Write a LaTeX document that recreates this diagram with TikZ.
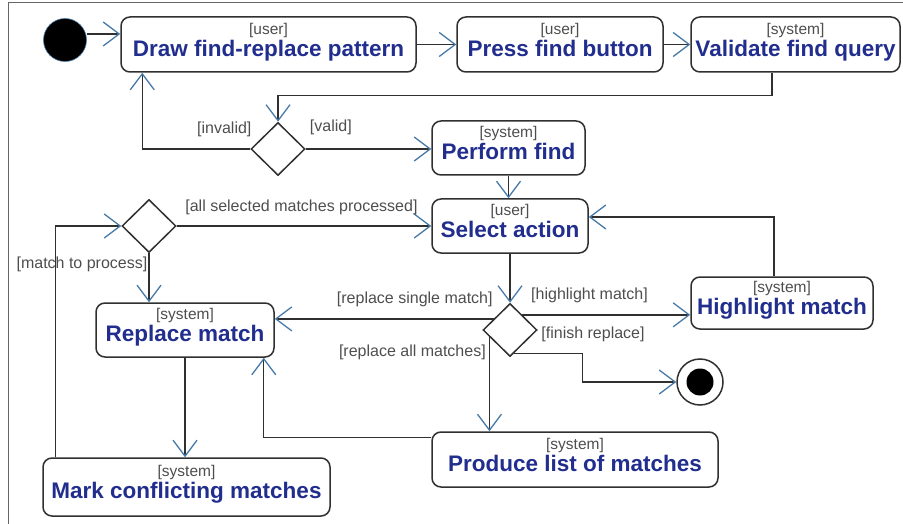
\documentclass[tikz,border=0pt]{standalone}
\definecolor{actblue}{RGB}{33,46,142}
\definecolor{taggray}{RGB}{78,78,78}
\definecolor{flowgray}{RGB}{48,48,48}
\definecolor{tipblue}{RGB}{72,122,168}
\usepackage{fontspec}
\setmainfont{Liberation Sans}
\usepackage{tikz}
\usetikzlibrary{arrows.meta,shapes.geometric}
\newcommand{\act}[2]{{\fontsize{15.5}{16}\selectfont\mdseries\color{taggray}[#1]}\\{\color{actblue}#2}}

\begin{document}
\begin{tikzpicture}[
    x=1pt,y=-1pt,
    act/.style={rectangle,draw=flowgray,line width=1.5pt,rounded corners=9pt,
                fill=white,align=center,inner xsep=2pt,inner ysep=0pt,text depth=10pt,
                minimum height=55pt,font=\fontsize{22.5}{22}\selectfont\bfseries},
    choice/.style={diamond,draw=flowgray,line width=1.5pt,fill=white,
                   inner sep=0pt,minimum width=54pt,minimum height=53pt},
    start/.style={circle,fill=black,draw=tipblue,line width=0.6pt,
                  minimum size=43pt,inner sep=0pt},
    stop/.style={circle,draw=flowgray,line width=1.5pt,fill=white,
                 minimum size=46pt,inner sep=0pt,
                 path picture={\fill[black] (path picture bounding box.center) circle (13.5pt);}},
    flow/.style={draw=flowgray,line width=1.4pt,
                 -{Straight Barb[length=16pt,width=24pt,color=tipblue,line width=1.3pt]}},
    guard/.style={font=\fontsize{16}{16}\selectfont,text=taggray,inner sep=1pt}
  ]
    \useasboundingbox (0,0) rectangle (903,524);
    \draw[gray!80!black,line width=1pt] (8,524) -- (8,3) -- (903,3);

    % Row 1: pattern and query
    \node[start] (init) at (65,40) {};
    \node[act,minimum width=295pt] (drawpat)  at (268.5,44.5) {\act{user}{Draw find-replace pattern}};
    \node[act,minimum width=206pt] (press)    at (560,44.5)   {\act{user}{Press find button}};
    \node[act,minimum width=209pt] (validate) at (795.5,44.5) {\act{system}{Validate find query}};
    % Row 2: validity check
    \node[choice] (d1) at (278,149) {};
    \node[act,minimum width=153pt,minimum height=54pt] (perform) at (508.5,148) {\act{system}{Perform find}};
    % Row 3: match loop and user choice
    \node[choice] (d2) at (149,226) {};
    \node[act,minimum width=156pt,minimum height=54pt] (select) at (510,226) {\act{user}{Select action}};
    % Row 4: actions on matches
    \node[act,minimum width=178pt,minimum height=54pt] (replace)   at (185,330) {\act{system}{Replace match}};
    \node[choice] (d3) at (510,330) {};
    \node[act,minimum width=182pt,minimum height=52pt] (highlight) at (782,303) {\act{system}{Highlight match}};
    \node[stop] (final) at (700,382) {};
    % Row 5
    \node[act,minimum width=287pt,minimum height=58pt] (mark)    at (186.5,487) {\act{system}{Mark conflicting matches}};
    \node[act,minimum width=286pt] (produce) at (575,459.5) {\act{system}{Produce list of matches}};

    % Arrows
    \draw[flow] ([yshift=6pt]init.east) -- ([yshift=6pt]init.east -| drawpat.west);
    \draw[flow] (drawpat) -- (press);
    \draw[flow] (press) -- (validate);
    \draw[flow] ([xshift=-23.5pt]validate.south) -- ++(0,23) -| (d1.north);
    \draw[flow] (d1.west) -| node[guard,pos=0.12,above=10pt]{[invalid]} ([xshift=22pt]drawpat.south west);
    \draw[flow] (d1.east) -- node[guard,pos=0.2,above=12pt]{[valid]} (perform.west |- d1.east);
    \draw[flow] (perform.south) -- (perform.south |- select.north);
    \draw[flow] (d2.east) -- node[guard,pos=0.49,above=9pt]{[all selected matches processed]} (select.west);
    \draw[flow] (d2.south) -- node[guard,pos=0.22,left=0pt]{[match to process]} (d2.south |- replace.north);
    \draw[flow] (select.south) -- (d3.north);
    \draw[flow] (d3.146) -- node[guard,pos=0.36,above=10pt]{[replace single match]} (d3.146 -| replace.east);
    \draw[flow] (d3.51) -- node[guard,pos=0.4,above=10pt]{[highlight match]} (d3.51 -| highlight.west);
    \draw[flow] (d3.199) -- node[guard,pos=0.16,left=2pt]{[replace all matches]} (d3.199 |- produce.north);
    \draw[flow] (d3.-81) node[guard,anchor=south west,xshift=26pt,yshift=10pt]{[finish replace]}
        -| ([xshift=-94pt]final.west) -- (final.west);
    \draw[flow] ([xshift=-8pt]highlight.north) |- ([yshift=9pt]select.east);
    \draw[flow] (replace.south) -- (replace.south |- mark.north);
    \draw[flow] ([xshift=-131pt]mark.north) |- (d2.west);
    \draw[flow] ([yshift=-6pt]produce.north west) -| ([xshift=-11pt]replace.south east);
  \end{tikzpicture}
\end{document}
